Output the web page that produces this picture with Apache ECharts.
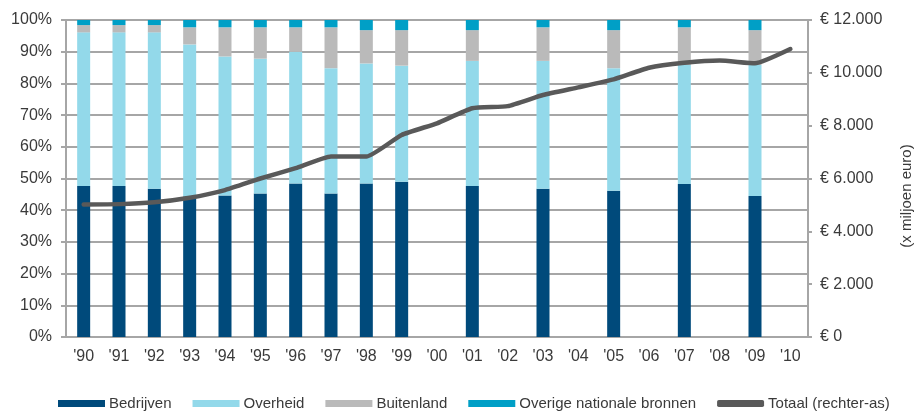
<!DOCTYPE html>
<html>
<head>
<meta charset="utf-8">
<script src="https://cdn.jsdelivr.net/npm/echarts@6/dist/echarts.min.js"></script>
<style>
html,body{margin:0;padding:0;background:#fff;}
#chart{width:915px;height:412px;}
</style>
</head>
<body>
<div id="chart"></div>
<script>
var years = ["'90","'91","'92","'93","'94","'95","'96","'97","'98","'99","'00","'01","'02","'03","'04","'05","'06","'07","'08","'09","'10"];
var bedrijven = [47.6,47.6,46.8,44.3,44.6,45.3,48.4,45.3,48.4,49.0,null,47.6,null,46.8,null,46.1,null,48.3,null,44.5,null];
var overheid  = [48.5,48.5,49.3,48.0,43.9,42.5,41.6,39.5,37.9,36.6,null,39.5,null,40.3,null,38.7,null,37.5,null,41.3,null];
var buitenland= [2.3,2.3,2.3,5.4,9.2,9.9,7.7,12.9,10.5,11.2,null,9.7,null,10.6,null,12.0,null,11.9,null,11.0,null];
var overige   = [1.6,1.6,1.6,2.3,2.3,2.3,2.3,2.3,3.2,3.2,null,3.2,null,2.3,null,3.2,null,2.3,null,3.2,null];
var totaal    = [5020,5030,5100,5270,5560,6000,6390,6830,6830,7650,8090,8660,8740,9160,9450,9750,10190,10380,10470,10360,10900];
var leftTicks = {min:0, max:100, interval:10};
var rightTicks = {min:0, max:12000, interval:2000};

var font = "'Liberation Sans', Arial, sans-serif";
var txt = '#3a3a3a';
var gridCol = '#a6a6a6';
function euro(v){
  var s = String(Math.round(v));
  return '\u20ac ' + s.replace(/\B(?=(\d{3})+(?!\d))/g, '.');
}
var barW = 13;
var chart = echarts.init(document.getElementById('chart'), null, {renderer:'canvas'});
chart.setOption({
  animation:false,
  textStyle:{fontFamily:font},
  grid:{left:66, right:107, top:20, bottom:75, containLabel:false},
  legend:{
    left:53, top:391, itemWidth:47, itemHeight:7, itemGap:21,
    textStyle:{fontFamily:font, fontSize:15, color:txt, padding:[0,0,0,-1]},
    data:[
      {name:'Bedrijven', icon:'rect'},
      {name:'Overheid', icon:'rect'},
      {name:'Buitenland', icon:'rect'},
      {name:'Overige nationale bronnen', icon:'rect'},
      {name:'Totaal (rechter-as)', icon:'roundRect'}
    ]
  },
  xAxis:{
    type:'category', data:years, boundaryGap:true,
    axisLine:{lineStyle:{color:gridCol, width:2}},
    axisTick:{length:5, lineStyle:{color:gridCol, width:2}},
    axisLabel:{fontSize:16, color:txt, margin:12, fontFamily:font}
  },
  yAxis:[
    {type:'value', min:leftTicks.min, max:leftTicks.max, interval:leftTicks.interval,
     axisLine:{show:true, lineStyle:{color:gridCol, width:2}},
     axisTick:{show:true, length:5, lineStyle:{color:gridCol, width:2}},
     splitLine:{lineStyle:{color:gridCol, width:2}},
     axisLabel:{formatter:'{value}%', fontSize:16, color:txt, margin:14, fontFamily:font}},
    {type:'value', position:'right', min:rightTicks.min, max:rightTicks.max, interval:rightTicks.interval,
     axisLine:{show:true, lineStyle:{color:gridCol, width:2}},
     axisTick:{show:true, length:4, lineStyle:{color:gridCol, width:2}},
     splitLine:{show:false},
     axisLabel:{formatter:euro, fontSize:16, color:txt, margin:12, fontFamily:font}}
  ],
  graphic:[{
    type:'text', x:907, y:196, rotation:Math.PI/2,
    style:{text:'(x miljoen euro)', fontSize:15, fontFamily:font, fill:txt, textAlign:'center', textVerticalAlign:'middle'}
  }],
  series:[
    {name:'Bedrijven', type:'bar', stack:'s', barWidth:barW, data:bedrijven, itemStyle:{color:'#004a7b'}},
    {name:'Overheid', type:'bar', stack:'s', barWidth:barW, data:overheid, itemStyle:{color:'#93d9ea'}},
    {name:'Buitenland', type:'bar', stack:'s', barWidth:barW, data:buitenland, itemStyle:{color:'#bababa'}},
    {name:'Overige nationale bronnen', type:'bar', stack:'s', barWidth:barW, data:overige, itemStyle:{color:'#009fc6'}},
    {name:'Totaal (rechter-as)', type:'line', yAxisIndex:1, data:totaal, symbol:'none', smooth:0.15,
     lineStyle:{color:'#595959', width:4.5, cap:'round', join:'round'}, itemStyle:{color:'#595959'}, z:5}
  ]
});
</script>
</body>
</html>
